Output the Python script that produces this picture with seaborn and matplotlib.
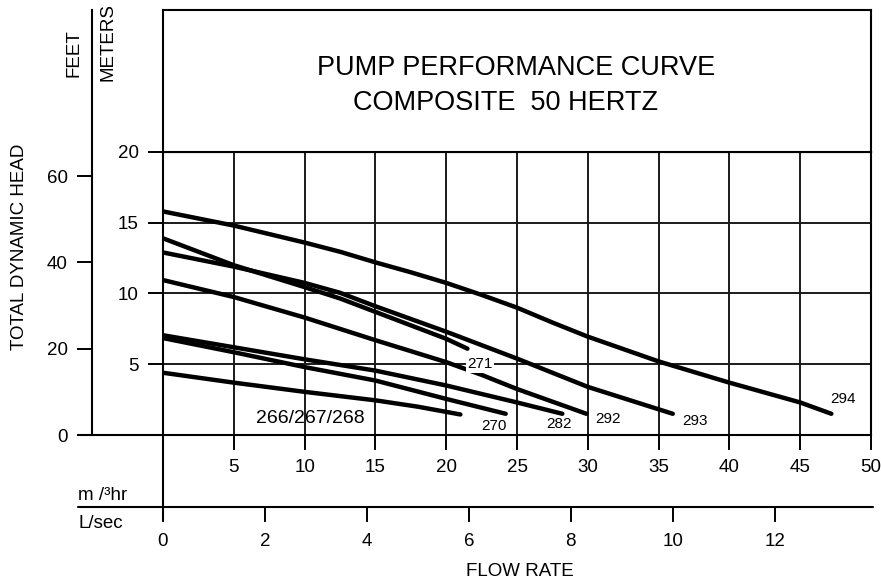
import numpy as np
import pandas as pd
import seaborn as sns
import matplotlib.pyplot as plt
from matplotlib.lines import Line2D

sns.set_theme(style='white')
plt.rcParams['font.family'] = ['Liberation Sans Narrow', 'Liberation Sans', 'DejaVu Sans']
plt.rcParams['text.color'] = 'black'
plt.rcParams['xtick.color'] = 'black'
plt.rcParams['ytick.color'] = 'black'

# flow in m3/hr, head in meters
flow_266 = [0, 5, 10, 15, 18, 21]
head_266 = [4.4, 3.7, 3.05, 2.45, 2.0, 1.45]
flow_270 = [0, 5, 10, 15, 20, 24.2]
head_270 = [6.85, 5.85, 4.8, 3.85, 2.55, 1.5]
flow_282 = [0, 5, 10, 15, 20, 25, 28.2]
head_282 = [7.05, 6.2, 5.35, 4.55, 3.5, 2.3, 1.5]
flow_292 = [0, 5, 10, 15, 20, 22.5, 25, 29.9]
head_292 = [10.95, 9.75, 8.3, 6.7, 5.15, 4.25, 3.25, 1.5]
flow_271 = [0, 5, 10, 12.5, 15, 17.5, 20, 21.5]
head_271 = [13.9, 12.0, 10.45, 9.65, 8.7, 7.75, 6.8, 6.1]
flow_293 = [0, 5, 10, 12.5, 15, 17.5, 20, 22.5, 25, 30, 36]
head_293 = [12.9, 11.9, 10.75, 10.05, 9.1, 8.2, 7.3, 6.35, 5.4, 3.4, 1.5]
flow_294 = [0, 5, 10, 12.5, 15, 17.5, 20, 22.5, 25, 27.5, 30, 35, 40, 45, 47.2]
head_294 = [15.8, 14.8, 13.6, 12.95, 12.2, 11.5, 10.75, 9.9, 9.0, 7.95, 6.95, 5.2, 3.7, 2.3, 1.5]

models = ['266/267/268', '270', '282', '292', '271', '293', '294']
flows = [flow_266, flow_270, flow_282, flow_292, flow_271, flow_293, flow_294]
heads = [head_266, head_270, head_282, head_292, head_271, head_293, head_294]

m3hr_ticks = [5, 10, 15, 20, 25, 30, 35, 40, 45, 50]
meter_ticks = [5, 10, 15, 20]
feet_ticks = [0, 20, 40, 60]
lsec_ticks = [0, 2, 4, 6, 8, 10, 12]

df = pd.concat([pd.DataFrame({'model': m, 'flow': f, 'head': h})
                for m, f, h in zip(models, flows, heads)], ignore_index=True)

W, H = 881, 584


def fx(px):
    return px / W


def fy(py):
    return 1 - py / H


fig = plt.figure(figsize=(W / 100, H / 100), dpi=100)
fig.patch.set_facecolor('white')
LW = 1.5
FS = 13.5

# main grid area
ax = fig.add_axes([fx(163), fy(435), fx(871) - fx(163), fy(152) - fy(435)])
sns.lineplot(data=df, x='flow', y='head', units='model', estimator=None, sort=False,
             color='black', lw=3.2, solid_capstyle='round', legend=False, ax=ax)
ax.set_xlim(0, 50)
ax.set_ylim(0, 20)
ax.set_xticks(m3hr_ticks)
ax.set_yticks(meter_ticks)
ax.set_xticklabels([str(t) for t in m3hr_ticks])
ax.set_yticklabels([str(t) for t in meter_ticks])
ax.set_xlabel('')
ax.set_ylabel('')
ax.set_axisbelow(True)
ax.grid(True, color='#1a1a1a', lw=1.4)
ax.tick_params(axis='both', bottom=True, left=True, direction='out', length=10.5,
               width=1.4, color='black', labelsize=FS, pad=7, labelcolor='black')
for s in ax.spines.values():
    s.set_color('black')
    s.set_linewidth(LW)

# curve labels
ax.text(10.4, 1.2, '266/267/268', fontsize=14, ha='center', va='center')
ax.text(23.4, 0.64, '270', fontsize=11, ha='center', va='center')
ax.text(22.4, 5.0, '271', fontsize=11, ha='center', va='center',
        bbox=dict(facecolor='white', edgecolor='none', pad=1))
ax.text(28.0, 0.78, '282', fontsize=11, ha='center', va='center')
ax.text(31.4, 1.13, '292', fontsize=11, ha='center', va='center')
ax.text(37.6, 0.99, '293', fontsize=11, ha='center', va='center')
ax.text(48.0, 2.54, '294', fontsize=11, ha='center', va='center')

# title box
ax_t = fig.add_axes([fx(163), fy(152), fx(871) - fx(163), fy(10) - fy(152)])
ax_t.set_xticks([])
ax_t.set_yticks([])
ax_t.set_facecolor('white')
for s in ax_t.spines.values():
    s.set_color('black')
    s.set_linewidth(LW)
fig.text(fx(516), fy(68), 'PUMP PERFORMANCE CURVE', fontsize=19.5, ha='center', va='center')
fig.text(fx(506), fy(103), 'COMPOSITE  50 HERTZ', fontsize=19.5, ha='center', va='center')

# feet axis
ax_ft = fig.add_axes([fx(92), fy(435), 1 / W, fy(10) - fy(435)])
ax_ft.set_facecolor('none')
ax_ft.set_ylim(0, 20 * (435 - 10) / (435 - 152) / 0.3048)
ax_ft.set_yticks(feet_ticks)
ax_ft.set_yticklabels([str(t) for t in feet_ticks])
ax_ft.set_xticks([])
for k, s in ax_ft.spines.items():
    s.set_visible(k == 'left')
    s.set_color('black')
    s.set_linewidth(LW)
ax_ft.tick_params(axis='y', left=True, direction='out', length=10.5, width=1.4,
                  color='black', labelsize=FS, pad=7, labelcolor='black')

# L/sec axis
ax_ls = fig.add_axes([fx(163), fy(507), fx(871) - fx(163), 1 / H])
ax_ls.set_facecolor('none')
ax_ls.set_xlim(0, 50 / 3.6)
ax_ls.set_xticks(lsec_ticks)
ax_ls.set_xticklabels([str(t) for t in lsec_ticks])
ax_ls.set_yticks([])
for s in ax_ls.spines.values():
    s.set_visible(False)
ax_ls.tick_params(axis='x', bottom=True, direction='out', length=10.5, width=1.4,
                  color='black', labelsize=FS, pad=8, labelcolor='black')

# connecting lines
for xs, ys in [([78, 163], [435, 435]), ([163, 163], [435, 520]), ([78, 873], [507, 507])]:
    fig.add_artist(Line2D([fx(x) for x in xs], [fy(y) for y in ys],
                          transform=fig.transFigure, color='black', lw=LW))

# axis texts
fig.text(fx(20), fy(247), 'TOTAL DYNAMIC HEAD', fontsize=FS, rotation=90, ha='center', va='center')
fig.text(fx(74), fy(53), 'FEET', fontsize=FS, rotation=90, ha='center', va='center')
fig.text(fx(108), fy(42), 'METERS', fontsize=FS, rotation=90, ha='center', va='center')
fig.text(fx(78), fy(496), 'm /³hr', fontsize=FS, ha='left', va='center')
fig.text(fx(78), fy(523), 'L/sec', fontsize=FS, ha='left', va='center')
fig.text(fx(520), fy(572), 'FLOW RATE', fontsize=FS, ha='center', va='center')

fig.savefig('out.png', dpi=100, facecolor='white')
